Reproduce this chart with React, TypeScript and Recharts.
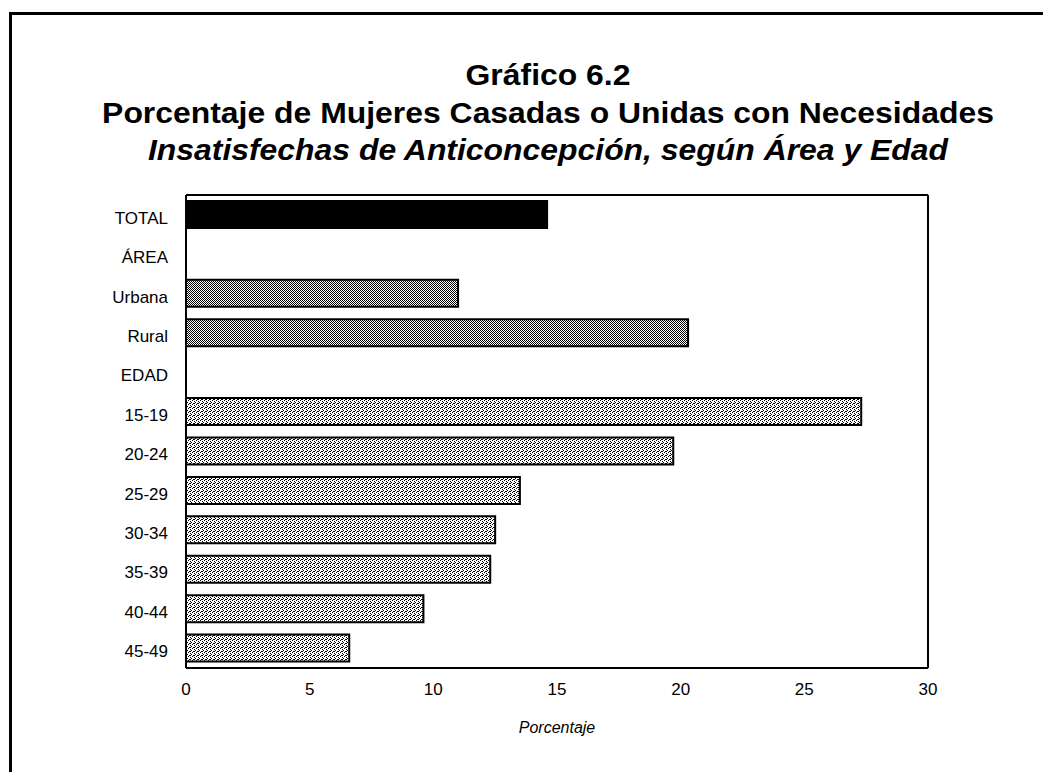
import React from 'react';
import { BarChart, Bar, XAxis, YAxis, Cell, Label } from 'recharts';

const categories = ['TOTAL', 'ÁREA', 'Urbana', 'Rural', 'EDAD', '15-19', '20-24', '25-29', '30-34', '35-39', '40-44', '45-49'];
const values: (number | null)[] = [14.6, null, 11.0, 20.3, null, 27.3, 19.7, 13.5, 12.5, 12.3, 9.6, 6.6];
const groups = ['total', 'header', 'area', 'area', 'header', 'age', 'age', 'age', 'age', 'age', 'age', 'age'];
const xTicks = [0, 5, 10, 15, 20, 25, 30];
const titleLines = [
  'Gráfico 6.2',
  'Porcentaje de Mujeres Casadas o Unidas con Necesidades',
  'Insatisfechas de Anticoncepción, según Área y Edad',
];
const xAxisTitle = 'Porcentaje';

const fills: Record<string, string> = {
  total: '#000000',
  area: 'url(#patDark)',
  age: 'url(#patLight)',
  header: 'none',
};

const data = categories.map((name, i) => ({ name, value: values[i], group: groups[i] }));

const FONT = '"Liberation Sans", Arial, Helvetica, sans-serif';

export default function App() {
  const W = 1043;
  const H = 764;
  const titleStyle = (top: number, italic: boolean): React.CSSProperties => ({
    position: 'absolute',
    left: 40,
    width: 1000,
    top,
    textAlign: 'center',
    fontFamily: FONT,
    fontWeight: 'bold',
    fontStyle: italic ? 'italic' : 'normal',
    fontSize: 29,
    lineHeight: '40px',
    color: '#000',
    whiteSpace: 'nowrap',
    transform: 'scaleX(1.1)',
    transformOrigin: '500px 0',
  });
  return (
    <div style={{ position: 'relative', width: W, height: H, background: '#fff' }}>
      <div
        style={{
          position: 'absolute',
          left: 1,
          top: 4,
          width: W - 1,
          height: H - 4,
          borderTop: '3px solid #000',
          borderLeft: '3px solid #000',
          boxSizing: 'border-box',
        }}
      />
      <div style={titleStyle(47, false)}>{titleLines[0]}</div>
      <div style={titleStyle(85, false)}>{titleLines[1]}</div>
      <div style={titleStyle(122, true)}>{titleLines[2]}</div>
      <div style={{ position: 'absolute', left: 0, top: 0 }}>
        <BarChart
          width={W}
          height={H}
          data={data}
          layout="vertical"
          margin={{ top: 186, right: 122, bottom: 34, left: 0 }}
          barSize={27}
        >
          <defs>
            <pattern id="patDark" width="2" height="2" patternUnits="userSpaceOnUse">
              <rect x="0" y="0" width="2" height="2" fill="#ffffff" />
              <rect x="0" y="0" width="1" height="1" fill="#000000" />
              <rect x="1" y="1" width="1" height="1" fill="#000000" />
            </pattern>
            <pattern id="patLight" width="4" height="4" patternUnits="userSpaceOnUse">
              <rect x="0" y="0" width="4" height="4" fill="#ffffff" />
              <rect x="0" y="0" width="1" height="1" fill="#000000" />
              <rect x="2" y="1" width="1" height="1" fill="#000000" />
              <rect x="3" y="2" width="1" height="1" fill="#000000" />
              <rect x="1" y="3" width="1" height="1" fill="#000000" />
              <rect x="2" y="3" width="1" height="1" fill="#000000" />
            </pattern>
          </defs>
          <XAxis
            type="number"
            domain={[0, 30]}
            ticks={xTicks}
            height={70}
            tickLine={false}
            tickMargin={9}
            axisLine={{ stroke: '#000', strokeWidth: 2 }}
            tick={{ fill: '#000', fontSize: 17, fontFamily: FONT }}
          >
            <Label
              value={xAxisTitle}
              position="insideBottom"
              offset={5}
              style={{ fill: '#000', fontSize: 16, fontStyle: 'italic', fontFamily: FONT }}
            />
          </XAxis>
          <XAxis
            xAxisId="top"
            orientation="top"
            type="number"
            domain={[0, 30]}
            height={1}
            tick={false}
            tickLine={false}
            axisLine={{ stroke: '#000', strokeWidth: 2 }}
          />
          <YAxis
            type="category"
            dataKey="name"
            width={178}
            tickLine={false}
            tickMargin={12}
            interval={0}
            axisLine={{ stroke: '#000', strokeWidth: 2 }}
            tick={{ fill: '#000', fontSize: 17, fontFamily: FONT, dy: 3 }}
          />
          <YAxis
            yAxisId="right"
            orientation="right"
            type="category"
            dataKey="name"
            width={1}
            tick={false}
            tickLine={false}
            axisLine={{ stroke: '#000', strokeWidth: 2 }}
          />
          <Bar dataKey="value" isAnimationActive={false} stroke="#000" strokeWidth={2}>
            {data.map((d, i) => (
              <Cell key={i} fill={fills[d.group]} />
            ))}
          </Bar>
        </BarChart>
      </div>
    </div>
  );
}
